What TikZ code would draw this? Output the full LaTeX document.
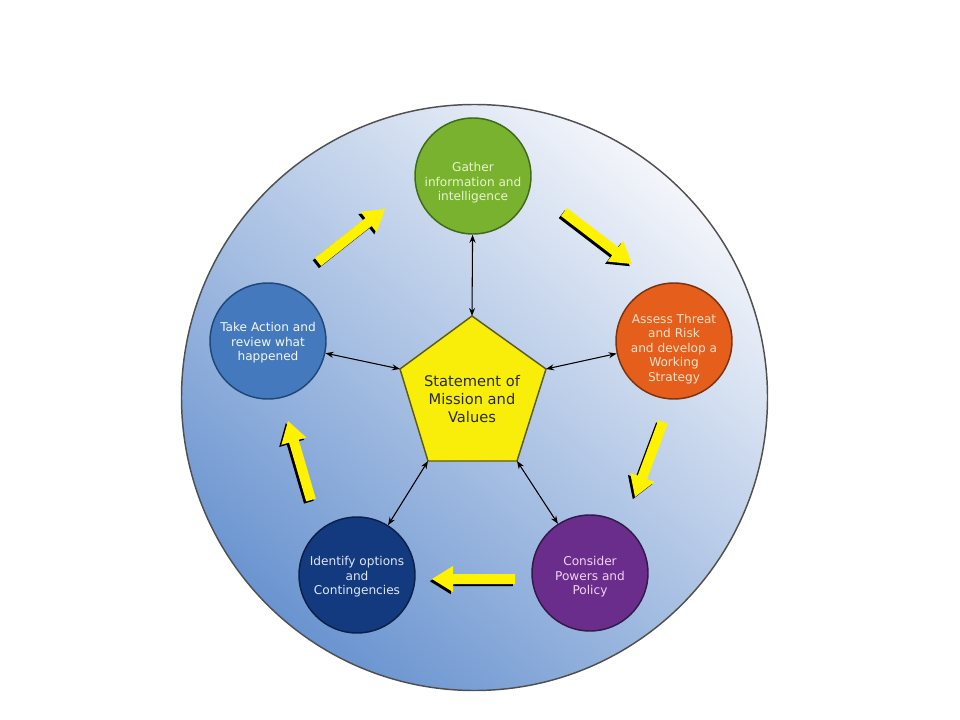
\documentclass[tikz,border=0pt]{standalone}
\usepackage{fontspec}
\setmainfont{DejaVu Sans}
\usetikzlibrary{arrows.meta,calc}
\definecolor{bgLight}{HTML}{F3F5FA}
\definecolor{bgMid}{HTML}{D0DCF0}
\definecolor{bgDark}{HTML}{6A94D0}
\definecolor{rimGray}{HTML}{505050}
\definecolor{greenFill}{HTML}{78B22E}
\definecolor{greenLine}{HTML}{3F6A1C}
\definecolor{greenText}{HTML}{E6F6CC}
\definecolor{orangeFill}{HTML}{E55E1B}
\definecolor{orangeLine}{HTML}{7A3210}
\definecolor{orangeText}{HTML}{FDE2CC}
\definecolor{purpleFill}{HTML}{6B2D8C}
\definecolor{purpleLine}{HTML}{35184A}
\definecolor{purpleText}{HTML}{F0D2F6}
\definecolor{navyFill}{HTML}{133A7E}
\definecolor{navyLine}{HTML}{0A2048}
\definecolor{navyText}{HTML}{DCE6F8}
\definecolor{blueFill}{HTML}{4479BD}
\definecolor{blueLine}{HTML}{1F4778}
\definecolor{blueText}{HTML}{F2F6FC}
\definecolor{pentFill}{HTML}{F8EE0A}
\definecolor{pentLine}{HTML}{5E5C14}
\definecolor{pentText}{HTML}{2A2A2A}
\definecolor{arrowYellow}{HTML}{FFF200}
\newcommand\cyclearrow[4]{%
  \pgfmathsetmacro\arrang{atan2(-((#4)-(#2)),(#3)-(#1))}%
  \pgfmathsetmacro\arrlen{veclen((#3)-(#1),(#4)-(#2))}%
  \foreach \sx/\sy/\col in {-2.2/2.2/black, 0/0/arrowYellow}{%
    \fill[\col, shift={(\sx,\sy)}, shift={(#1,#2)}, rotate=\arrang]
      (0,-5) -- (\arrlen-21,-5) -- (\arrlen-21,-13) -- (\arrlen,0)
      -- (\arrlen-21,13) -- (\arrlen-21,5) -- (0,5) -- cycle;}%
}
\begin{document}
\begin{tikzpicture}[x=0.75pt,y=-0.75pt,
  wheel/.style={circle, minimum size=439.5pt, inner sep=0pt, draw=rimGray,
    line width=1.1pt, shade,
    top color=bgLight, middle color=bgMid, bottom color=bgDark,
    shading angle=-40},
  stage/.style={circle, minimum size=87pt, inner sep=0pt, line width=1.1pt},
  stagetext/.style={align=center, inner sep=0pt,
    font=\fontsize{9.1}{10.9}\selectfont},
  link/.style={{Stealth[length=6pt,width=4.5pt]}-{Stealth[length=6pt,width=4.5pt]},
    line width=0.8pt, black}]
\fill[white] (0,0) rectangle (960,720);
\useasboundingbox (0,0) rectangle (960,720);

\node[wheel] (wheelbg) at (474.5,397.5) {};

% stage circles
\node[stage, fill=greenFill, draw=greenLine] (gather) at (473,176) {};
\node[stage, fill=orangeFill, draw=orangeLine] (assess) at (674,341) {};
\node[stage, fill=purpleFill, draw=purpleLine] (consider) at (590,573) {};
\node[stage, fill=navyFill, draw=navyLine] (identify) at (357,575) {};
\node[stage, fill=blueFill, draw=blueLine] (action) at (268,341) {};

\node[stagetext, text=greenText] (gathertext) at (473,183)
  {Gather\\information and\\intelligence};
\node[stagetext, text=orangeText] (assesstext) at (674,349)
  {Assess Threat\\and Risk\\and develop a\\Working\\Strategy};
\node[stagetext, text=purpleText] (considertext) at (590,577)
  {Consider\\Powers and\\Policy};
\node[stagetext, text=navyText] (identifytext) at (357,577)
  {Identify options\\and\\Contingencies};
\node[stagetext, text=blueText] (actiontext) at (268,343)
  {Take Action and\\review what\\happened};

% pentagon
\coordinate (pTop) at (472,316);
\coordinate (pRight) at (546,369);
\coordinate (pBR) at (517,461);
\coordinate (pBL) at (428,461);
\coordinate (pLeft) at (400,369);
\filldraw[fill=pentFill, draw=pentLine, line width=1.1pt]
  (pTop) -- (pRight) -- (pBR) -- (pBL) -- (pLeft) -- cycle;
\node[align=center, text=pentText, inner sep=0pt,
  font=\fontsize{11}{13.4}\selectfont] (mission) at (472,399)
  {Statement of\\Mission and\\Values};

% links
\draw[link] (gather) -- (pTop);
\draw[link] (assess) -- (pRight);
\draw[link] (consider) -- (pBR);
\draw[link] (identify) -- (pBL);
\draw[link] (action) -- (pLeft);

% cycle arrows
\cyclearrow{318}{262}{385}{209}
\cyclearrow{564}{212}{632}{264}
\cyclearrow{663}{422}{635}{497}
\cyclearrow{515}{579}{432}{579}
\cyclearrow{311}{500}{288}{421}
\end{tikzpicture}
\end{document}
